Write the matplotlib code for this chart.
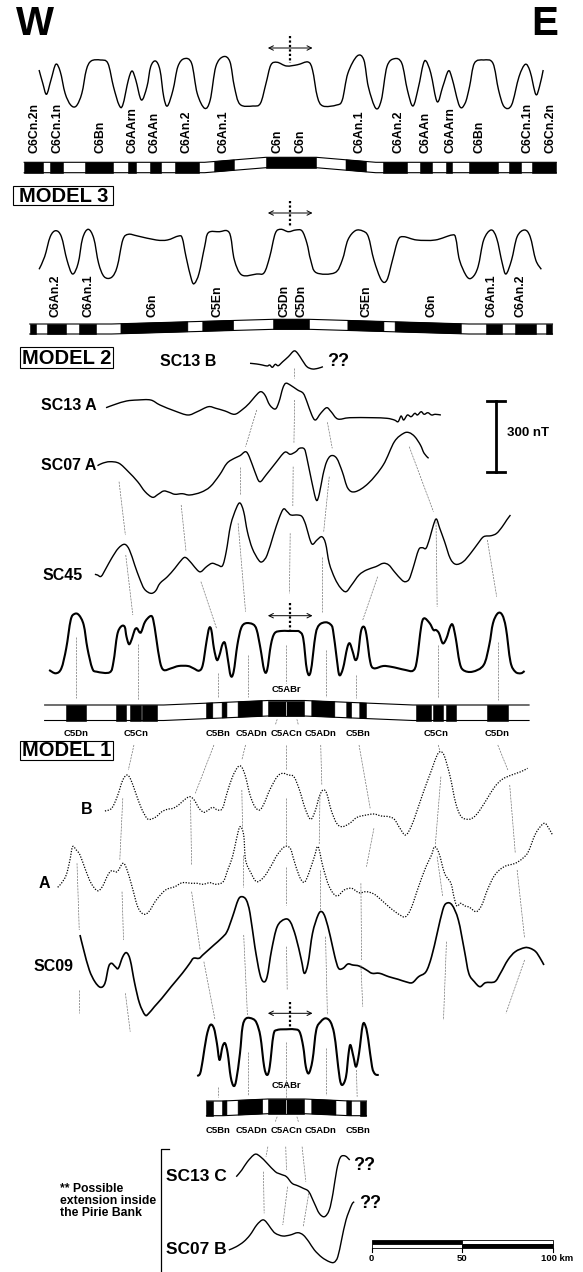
import matplotlib
matplotlib.use("Agg")
import matplotlib.pyplot as plt
import numpy as np
from matplotlib.patches import Polygon, Rectangle, PathPatch
from matplotlib.path import Path

plt.rcParams['font.family'] = ['Liberation Sans', 'DejaVu Sans']
plt.rcParams['font.weight'] = 'bold'

#=========================================================================================
# Data: profiles are (distance along track, anomaly level) pairs.
# Distance is in track units (figure width = 1567), level in figure rows.
#=========================================================================================
model_top = [(105,70),(115,83.3),(125,94.3),(137,80),(150,64.3),(162,71.7),(175,93.3),(190,105),(205,106),
             (220,93.3),(232,70),(245,61),(270,60),(290,63.3),(305,86.7),(320,105),(330,105),(345,80),(355,71),
             (365,80),(380,100),(395,86.7),(405,66.7),(418,61),(430,70),(440,96.7),(450,106),(465,90),(478,66.7),
             (495,58.7),(515,63.3),(530,93.3),(550,108.3),(565,100),(580,66.7),(600,56.7),(618,61.7),(630,86.7),
             (645,104.3),(680,106),(700,103.3),(715,83.3),(728,65),(745,62.3),(770,66),(800,64.7),(828,62),(840,70),
             (853,96.7),(868,106),(905,105),(920,100),(935,73.3),(960,56),(978,60),(990,86.7),(1010,108.3),
             (1025,100),(1040,66.7),(1060,58.7),(1080,63.3),(1095,90),(1110,106),(1125,86.7),(1137,65),(1145,61),
             (1158,73.3),(1175,101.7),(1190,86.7),(1205,71),(1215,78.3),(1235,106),(1250,103.3),(1262,86.7),
             (1275,63.3),(1300,60),(1325,63.3),(1340,90),(1355,106.7),(1375,105),(1395,76.7),(1412,64.3),
             (1425,71.7),(1440,94.3),(1450,86.7),(1460,70)]

model_3 = [(105,269.3),(120,256.7),(135,236.7),(150,230.7),(165,236.7),(180,260),(195,274),(210,263.3),(222,238.3),
           (237,229.3),(252,238.3),(265,263.3),(280,276.7),(300,277.3),(315,266.7),(330,240),(345,234.3),(370,236),
           (420,240),(450,240),(480,236),(490,238.3),(500,256.7),(515,280),(523,283.3),(535,273.3),(550,246.7),
           (560,232.7),(590,231.7),(610,230.7),(620,236.7),(630,260),(650,275),(690,274),(710,272.7),(725,256.7),
           (740,233.3),(755,229.3),(775,231.7),(795,230),(812,231),(825,243.3),(835,260),(850,272.7),(900,272.7),
           (920,260),(935,240),(955,230.7),(975,231),(990,236.7),(1005,260),(1025,280),(1040,280),(1055,260),
           (1070,240),(1085,236.7),(1120,240),(1170,240),(1215,235),(1225,238.3),(1235,260),(1255,276.7),
           (1270,277.3),(1285,266.7),(1300,240),(1320,230),(1335,238.3),(1350,263.3),(1360,274),(1375,260),
           (1390,236.7),(1410,230),(1425,236.7),(1440,260),(1455,269.3)]

sc13_b = [(672,363.3),(690,364),(705,365),(718,366),(725,365),(732,367.3),(740,364.3),(748,365.7),(760,361.7),
          (775,356.7),(790,351),(800,353.3),(812,360),(825,366.7),(840,369),(855,368.3),(868,366.7)]

sc13_a = [(285,407.7),(310,404.3),(340,401),(370,400),(405,400),(430,405),(470,411),(505,415),(530,411.7),
          (560,406.7),(580,408.3),(605,411),(630,414.3),(650,410),(670,403.3),(685,396.7),(700,391.7),(712,395),
          (725,405),(740,409),(750,401.7),(760,388.3),(768,383.3),(780,385),(800,390),(815,393.3),(825,401.7),
          (838,415),(848,420),(862,413.3),(878,407.7),(890,411.7),(908,419),(940,417.7),(1000,417.7),(1040,418.3),
          (1060,420),(1070,421.7),(1078,416),(1085,420),(1095,415),(1105,416.7),(1115,413.3),(1122,415),
          (1132,411.7),(1140,414.3),(1150,412.7),(1160,415),(1170,414.3),(1185,415)]

sc07_a = [(262,465.7),(275,463.3),(295,461.7),(320,463.3),(345,471.7),(370,481.7),(390,491.7),(410,497.3),
          (425,494.3),(440,491),(455,492.3),(470,494.3),(490,493.7),(510,495),(540,492.3),(565,486.7),(590,475),
          (610,463.3),(630,458.3),(645,455.7),(660,451.7),(670,456.7),(685,471.7),(698,481.7),(715,475),
          (740,463.3),(765,452.3),(780,454.3),(795,451.7),(805,448.3),(818,449),(825,458.3),(838,481.7),(850,500),
          (858,494.3),(868,475),(878,461.7),(890,455.7),(905,458.3),(920,471.7),(935,488.3),(955,491.7),
          (990,483.3),(1030,465),(1060,441.7),(1085,433.3),(1100,432.7),(1115,436.7),(1130,445),(1140,453.3),
          (1152,458.3)]

sc45 = [(255,574.3),(262,575),(272,576.3),(285,568.3),(300,558.3),(318,548.3),(335,544.3),(348,550),(362,565),
        (375,578.3),(388,589),(405,593.3),(418,591),(430,583.3),(450,576.7),(470,568.3),(490,559),(500,557.7),
        (515,563.3),(530,570),(540,571.7),(555,566.7),(570,563.3),(585,565),(598,565.7),(608,551.7),(620,525),
        (635,508.3),(645,503),(655,511.7),(665,531.7),(678,548.3),(695,560),(705,561.7),(718,555),(735,535),
        (750,518.3),(762,509),(772,511.7),(782,515),(800,515),(812,516.7),(822,525),(832,538.3),(840,544.3),
        (852,540),(865,536.7),(875,543.3),(885,563.3),(900,578.3),(915,587.7),(930,591.7),(945,585),(965,575),
        (985,570),(1010,566.7),(1030,563.3),(1045,565),(1060,571.7),(1080,580),(1090,581.7),(1100,579),
        (1110,568.3),(1125,550),(1135,547.7),(1145,548.3),(1155,538.3),(1165,525),(1173,519),(1182,528.3),
        (1195,541.7),(1210,558.3),(1225,564.3),(1245,561.7),(1265,553.3),(1285,543.3),(1300,536.7),(1320,535.7),
        (1335,533.3),(1350,526.7),(1362,520),(1372,515)]

model_2 = [(132,670),(150,673.3),(165,668.3),(178,648.3),(190,620),(200,614),(212,615),(225,625),(235,648.3),
           (248,668.3),(260,671.7),(295,672.3),(305,661.7),(315,635),(325,626.7),(335,626.7),(340,636.7),
           (347,644.3),(355,638.3),(362,630),(368,628.3),(375,632.3),(380,631.7),(390,621.7),(405,616),(412,620),
           (420,638.3),(430,661.7),(440,670),(460,668.3),(480,666),(505,666),(520,668.3),(535,670.7),(545,665),
           (555,641.7),(562,628.3),(568,630),(575,648.3),(583,660),(590,655),(598,644.3),(605,643.3),(612,658.3),
           (620,675.7),(628,671.7),(638,645),(648,628.3),(660,623.3),(680,624.3),(690,630),(700,648.3),(710,670),
           (718,670),(728,645),(738,633.3),(755,631),(775,631),(795,631),(805,631.7),(815,638.3),(825,670),
           (835,671.7),(848,635),(858,625),(875,622.3),(888,624.3),(895,630),(905,658.3),(912,675),(922,668.3),
           (933,648.3),(940,643.3),(948,651.7),(955,660),(962,655),(970,631.7),(978,626.7),(985,635),(995,661.7),
           (1005,668.3),(1030,666),(1050,666.7),(1070,668.3),(1090,670),(1110,670.7),(1120,661.7),(1132,626.7),
           (1140,618.3),(1155,623.3),(1165,630),(1172,630),(1180,633.3),(1190,643.3),(1200,638.3),(1210,626.7),
           (1217,625),(1225,638.3),(1235,661.7),(1245,670),(1270,671.7),(1300,665),(1315,645),(1325,623.3),
           (1338,613.3),(1350,615),(1360,628.3),(1372,661.7),(1385,671.7),(1400,673.3),(1410,671)]

profile_b = [(282,811),(300,808.3),(315,796.7),(330,780),(342,775),(352,780),(365,793.3),(380,808.3),(395,818.3),
             (405,819.3),(420,816.7),(435,811.7),(450,809.3),(465,808.3),(480,805),(495,800),(510,796.7),(522,800),
             (535,808.3),(548,812.3),(560,810),(572,807.3),(585,810),(598,808.3),(610,793.3),(625,776.7),
             (640,766.7),(650,767.3),(660,776.7),(672,795),(685,806.7),(698,810),(710,803.3),(725,790),(745,776.7),
             (760,773.3),(775,775),(790,776.7),(805,790),(820,808.3),(835,819.3),(848,810),(858,796.7),(868,790),
             (878,793.3),(890,810),(905,823.3),(920,826.7),(940,823.3),(960,817.3),(985,815),(1005,814),(1025,816),
             (1045,816.7),(1060,819.3),(1075,828.3),(1090,835),(1105,826.7),(1120,811.7),(1140,790),(1160,770),
             (1175,755),(1185,751.7),(1195,756.7),(1210,776.7),(1225,803.3),(1240,816.7),(1260,819.3),(1275,816.7),
             (1290,810),(1310,798.3),(1330,786.7),(1350,779.3),(1375,775),(1400,771.7),(1418,768.3)]

profile_a = [(155,887.3),(165,883.3),(178,875),(188,860),(195,846.7),(205,850),(215,855),(230,870),(245,883.3),
             (262,890.7),(275,886.7),(290,875),(300,870.7),(315,871.7),(330,863.3),(340,868.3),(355,886.7),
             (370,906.7),(385,914),(400,911.7),(420,900),(445,890),(470,886.7),(490,882.7),(515,883.3),(530,883.3),
             (545,884.3),(565,882.7),(580,884.3),(600,881.7),(612,870),(625,856.7),(635,840),(645,826.7),(655,835),
             (660,860),(675,873.3),(690,881.7),(710,876.7),(730,865),(745,855),(765,846.7),(780,848.3),(790,860),
             (805,876.7),(818,882.3),(830,873.3),(845,856.7),(855,846.7),(868,866.7),(885,886.7),(905,896),
             (925,890),(945,888.3),(965,892.7),(985,891.7),(1005,894),(1025,900),(1050,908.3),(1075,915),
             (1090,916.7),(1105,908.3),(1125,886.7),(1145,866.7),(1160,855),(1168,846.7),(1180,853.3),(1195,873.3),
             (1212,883.3),(1220,896.7),(1228,906),(1238,903.3),(1250,906),(1262,907.3),(1280,911.7),(1295,905),
             (1310,890),(1330,875),(1355,866.7),(1385,863.3),(1405,858.3),(1420,851.7),(1440,833.3),(1462,823.3),
             (1475,828.3),(1485,835)]

sc09 = [(215,935),(225,950),(240,970),(255,981.7),(270,987.3),(282,983.3),(292,966.7),(300,963.3),(310,966.7),
        (318,968.3),(330,956.7),(340,952.7),(350,960),(362,983.3),(375,1003.3),(390,1015),(400,1013.3),
        (415,1006.7),(435,998.3),(460,986.7),(490,973.3),(510,963.3),(520,958.3),(535,958.3),(545,955),(560,950),
        (575,945),(595,938.3),(610,931.7),(625,916.7),(640,900),(650,896.7),(662,900),(672,913.3),(685,946.7),
        (698,973.3),(708,981.7),(718,976.7),(730,950),(745,926.7),(765,919.3),(780,921.7),(795,936.7),(810,960),
        (818,973.3),(828,963.3),(840,933.3),(855,915),(865,911.7),(875,918.3),(888,936.7),(900,956.7),
        (910,968.3),(922,968.3),(935,964),(948,965),(965,966),(985,970),(1000,973.3),(1020,973.3),(1045,976.7),
        (1070,979.3),(1090,981.7),(1108,982.7),(1125,976.7),(1145,971.7),(1160,956.7),(1175,933.3),(1190,910),
        (1200,903.3),(1215,905),(1232,920),(1248,950),(1260,973.3),(1275,981.7),(1290,986.7),(1305,982.7),
        (1330,981.7),(1345,973.3),(1365,960),(1385,951.7),(1410,947.7),(1425,948.3),(1440,951.7),(1452,958.3),
        (1462,965)]

model_1 = [(530,1076),(538,1073.3),(545,1060),(555,1036.7),(565,1025),(575,1028.3),(583,1043.3),(590,1060),
           (598,1046.7),(605,1043.3),(612,1053.3),(620,1076.7),(628,1086),(635,1080),(645,1053.3),(652,1026.7),
           (662,1018.3),(680,1019),(690,1023.3),(700,1036.7),(710,1066.7),(718,1075),(725,1066.7),(735,1035),
           (745,1030),(770,1029.3),(790,1029.3),(805,1031.7),(815,1046.7),(822,1066.7),(830,1073.3),(840,1060),
           (850,1030),(862,1021.7),(875,1018.3),(888,1021.7),(898,1033.3),(905,1053.3),(913,1078.3),(920,1085),
           (930,1076.7),(937,1053.3),(942,1045),(950,1056.7),(957,1066.7),(965,1053.3),(975,1025),(983,1026.7),
           (990,1040),(1000,1066.7),(1008,1074),(1018,1075)]

sc13_c = [(635,1176.7),(650,1170),(665,1161.7),(685,1154.3),(700,1156.7),(718,1163.3),(740,1171.7),(755,1174.3),
          (770,1176.7),(785,1183.3),(800,1185.7),(815,1188.3),(830,1191.7),(845,1203.3),(858,1213.3),(872,1216.7),
          (885,1210),(895,1193.3),(905,1170),(915,1157.3),(928,1156),(940,1160)]

sc07_b = [(615,1250),(635,1246.7),(655,1241.7),(672,1235),(690,1225),(705,1220),(715,1221.7),(728,1228.3),
          (740,1233.3),(760,1236),(780,1235),(800,1232.7),(815,1235),(830,1241.7),(845,1250),(865,1257.3),
          (885,1261.7),(898,1262.3),(908,1256.7),(918,1240),(930,1220),(945,1205),(952,1201.7)]

# normal polarity blocks (start, end) for each model bar
blocks_top = [(65,115),(135,168),(228,305),(345,365),(403,433),(470,535),(577,630),(715,850),(930,985),
              (1030,1095),(1130,1160),(1198,1215),(1260,1338),(1368,1400),(1430,1495)]
blocks_m3 = [(80,97),(125,178),(213,258),(325,505),(545,628),(735,830),(935,1032),(1062,1240),(1305,1350),
             (1385,1440),(1468,1485)]
blocks_m2 = [(178,230),(313,340),(350,378),(382,422),(555,572),(597,610),(640,705),(720,818),(838,900),
             (932,945),(967,985),(1118,1158),(1163,1190),(1200,1225),(1310,1365)]
blocks_m1 = [(555,572),(598,610),(640,706),(720,818),(838,903),(932,945),(967,985)]

# chron labels
labels_top = ["C6Cn.2n","C6Cn.1n","C6Bn","C6AArn","C6AAn","C6An.2","C6An.1","C6n",
              "C6n","C6An.1","C6An.2","C6AAn","C6AArn","C6Bn","C6Cn.1n","C6Cn.2n"]
labels_top_x = [93,155,270,355,415,500,600,745,808,965,1070,1145,1210,1290,1418,1480]
labels_m3 = ["C6An.2","C6An.1","C6n","C5En","C5Dn","C5Dn","C5En","C6n","C6An.1","C6An.2"]
labels_m3_x = [150,238,410,585,765,810,985,1160,1320,1400]
labels_m2 = ["C5Dn","C5Cn","C5Bn","C5ADn","C5ACn","C5ADn","C5Bn","C5Cn","C5Dn"]
labels_m2_x = [205,365,585,677,770,862,963,1172,1337]
labels_m1 = ["C5Bn","C5ADn","C5ACn","C5ADn","C5Bn"]
labels_m1_x = [585,677,770,862,963]

# correlation lines between profiles
corr_lines = [((690,410),(660,446.7)),((645,466.7),(645,495)),((790,368.3),(790,378.3)),((792,400),(790,443.3)),
              ((788,466.7),(787,506)),((780,533.3),(778,593.3)),((880,422.3),(893,448.3)),((885,476.7),(870,531.7)),
              ((320,481.7),(337,535)),((487,505),(500,551.7)),((1100,446.7),(1165,511.7)),
              ((640,523.3),(660,611.7)),((338,555),(357,615)),((540,581.7),(582,628.3)),((866,556.7),(866,611.7)),
              ((1015,576.7),(975,620)),((1172,521.7),(1175,606.7)),((1310,540),(1335,596.7)),
              ((203,636.7),(203,698.3)),((372,644.3),(372,700)),((585,673.3),(585,698.3)),((667,655),(667,696.7)),
              ((770,645),(770,683.3)),((875,650),(875,696.7)),((958,675),(958,698.3)),((1178,645),(1178,698.3)),
              ((1338,641.7),(1338,700)),((745,719.3),(740,725)),((798,719.3),(802,725)),
              ((360,745),(345,770)),((575,745),(525,793.3)),((660,745),(650,760)),((770,745),(770,770)),
              ((862,745),(865,785)),((965,745),(995,808.3)),((1178,745),(1183,752)),((1338,745),(1365,770)),
              ((330,798.3),(322,860)),((512,800),(515,865)),((650,790),(652,828.3)),((770,798.3),(770,845)),
              ((860,795),(858,845)),((1005,828.3),(985,866.7)),((1185,776.7),(1170,845)),((1370,785),(1385,853.3)),
              ((207,863.3),(213,930)),((328,891.7),(332,940)),((515,891.7),(538,950)),((652,855),(652,886.7)),
              ((770,866.7),(770,905)),((860,870),(860,910)),((970,883.3),(972,960)),((1175,856.7),(1190,896.7)),
              ((1390,870),(1410,938.3)),((213,990),(213,1013.3)),((337,993.3),(350,1031.7)),((548,961.7),(578,1020)),
              ((655,935),(665,1015)),((770,946.7),(772,990)),((875,936.7),(880,1015)),((970,965),(975,1006.7)),
              ((1200,941.7),(1192,1020)),((1410,960),(1360,1013.3)),((585,1086.7),(585,1096.7)),
              ((667,1051.7),(667,1095)),((770,1041.7),(770,1098.3)),((876,1048.3),(876,1095)),
              ((958,1070),(960,1096.7)),((745,1116.7),(740,1121.7)),((798,1116.7),(802,1121.7)),
              ((720,1146.7),(715,1156.7)),((768,1146.7),(770,1170)),((812,1146.7),(822,1181.7)),
              ((708,1171.7),(710,1213.3)),((773,1186.7),(760,1225)),((830,1193.3),(815,1226.7))]

SCALE_KM = [0, 50, 100]
KM = (1486 - 999) / 100.0   # track units per km

#=========================================================================================
# Figure setup
#=========================================================================================
fig = plt.figure(figsize=(5.83, 12.72), dpi=100)
ax = fig.add_axes([0, 0, 1, 1])
ax.set_xlim(0, 1567)
ax.set_ylim(1272, 0)
ax.axis('off')


def draw_profile(pts, lw=1.0, ls='-'):
    # smooth curve through the read points (cubic bezier segments, catmull-rom handles)
    p = np.array(pts, float)
    n = len(p)
    verts = [p[0]]
    codes = [Path.MOVETO]
    for i in range(n - 1):
        p0 = p[i - 1] if i > 0 else p[i]
        p3 = p[i + 2] if i + 2 < n else p[i + 1]
        verts += [p[i] + (p[i + 1] - p0) / 6, p[i + 1] - (p3 - p[i]) / 6, p[i + 1]]
        codes += [Path.CURVE4] * 3
    ax.add_patch(PathPatch(Path(verts, codes), fill=False, ec='k', lw=lw, ls=ls, joinstyle='round'))


def draw_bar(blocks, x0, x1, top, bot, bend_x, bend_dy, split=None):
    # outline of the (slightly bent) polarity bar
    xs = np.array([x0] + [b for b in bend_x if x0 < b < x1] + [x1], float)
    dy = np.interp(xs, bend_x, bend_dy)
    ax.plot(xs, top + dy, color='k', lw=0.8)
    ax.plot(xs, bot + dy, color='k', lw=0.8)
    for a, b in blocks:
        xx = np.array([a] + [v for v in bend_x if a < v < b] + [b], float)
        d = np.interp(xx, bend_x, bend_dy)
        poly = np.column_stack([np.r_[xx, xx[::-1]], np.r_[top + d, (bot + d)[::-1]]])
        ax.add_patch(Polygon(poly, closed=True, fc='k', ec='k', lw=0.4))
    if split is not None:
        d = np.interp(split, bend_x, bend_dy)
        ax.plot([split, split], [top + d + 1, bot + d - 1], color='w', lw=0.5)


def spreading_arrow(y, ytop, ybot):
    ax.annotate('', xy=(840, y), xytext=(720, y),
                arrowprops=dict(arrowstyle='<->', lw=0.7, color='k', shrinkA=0, shrinkB=0,
                                mutation_scale=8))
    ax.plot([780, 780], [ytop, ybot], color='k', lw=1.6, ls=(0, (1, 1)))


def model_box(text, x0, x1, y0, y1):
    ax.add_patch(Rectangle((x0, y0), x1 - x0, y1 - y0, fc='none', ec='k', lw=0.8))
    ax.text((x0 + x1) / 2, (y0 + y1) / 2 + 0.5, text, fontsize=14.5, ha='center', va='center')


#=========================================================================================
# Correlation lines (drawn first, underneath)
#=========================================================================================
for (xa, ya), (xb, yb) in corr_lines:
    ax.plot([xa, xb], [ya, yb], color='0.45', lw=0.5, ls=(0, (3, 1.5)))

#=========================================================================================
# Top model
#=========================================================================================
ax.text(43, 24, "W", fontsize=29, ha='left', va='center')
ax.text(1500, 24, "E", fontsize=29, ha='right', va='center')

draw_profile(model_top)
spreading_arrow(48, 36, 63)
for lab, x in zip(labels_top, labels_top_x):
    ax.text(x, 153.3, lab, rotation=90, ha='center', va='bottom', fontsize=8.8)
draw_bar(blocks_top, 65, 1495, 162.3, 172.7, [0, 550, 715, 850, 1010, 1567], [0, 0, -5, -5, 0, 0])

#=========================================================================================
# Model 3
#=========================================================================================
model_box("MODEL 3", 35, 305, 186, 205)
draw_profile(model_3)
spreading_arrow(213, 200.7, 226)
for lab, x in zip(labels_m3, labels_m3_x):
    ax.text(x, 316.7, lab, rotation=90, ha='center', va='bottom', fontsize=8.8)
draw_bar(blocks_m3, 80, 1485, 324, 334, [0, 300, 735, 830, 1260, 1567], [0, 0, -4.7, -4.7, 0, 0])

#=========================================================================================
# Model 2 with observed profiles
#=========================================================================================
model_box("MODEL 2", 55, 305, 346.7, 368.3)

ax.text(430, 361, "SC13 B", fontsize=11.5, ha='left', va='center')
draw_profile(sc13_b)
ax.text(880, 362, "??", fontsize=13, ha='left', va='center')

ax.text(110, 406, "SC13 A", fontsize=11.5, ha='left', va='center')
draw_profile(sc13_a)

ax.text(110, 465.7, "SC07 A", fontsize=11.5, ha='left', va='center')
draw_profile(sc07_a)

ax.text(115, 575.7, "SC45", fontsize=11.5, ha='left', va='center')
draw_profile(sc45)

# 300 nT scale
ax.plot([1333, 1333], [401, 471.7], color='k', lw=2)
ax.plot([1310, 1358], [401, 401], color='k', lw=2)
ax.plot([1310, 1358], [471.7, 471.7], color='k', lw=2)
ax.text(1362, 433.3, "300 nT", fontsize=9.5, ha='left', va='center')

draw_profile(model_2, lw=1.5)
spreading_arrow(615.7, 603, 630)
ax.text(770, 689.3, "C5ABr", fontsize=6.8, ha='center', va='center')
draw_bar(blocks_m2, 120, 1422, 705, 720.5, [0, 440, 720, 818, 1110, 1567], [0, 0, -4.5, -4.5, 0, 0], split=770)
for lab, x in zip(labels_m2, labels_m2_x):
    ax.text(x, 734, lab, ha='center', va='center', fontsize=6.8)

#=========================================================================================
# Model 1 with observed profiles
#=========================================================================================
model_box("MODEL 1", 55, 305, 741, 760)

ax.text(232, 810, "B", fontsize=11.5, ha='center', va='center')
draw_profile(profile_b, lw=0.9, ls=(0, (1, 1.2)))
ax.text(118, 883.3, "A", fontsize=11.5, ha='center', va='center')
draw_profile(profile_a, lw=0.9, ls=(0, (1, 1.2)))
ax.text(90, 966.7, "SC09", fontsize=11.5, ha='left', va='center')
draw_profile(sc09, lw=1.2)

draw_profile(model_1, lw=1.5)
spreading_arrow(1013.3, 1001.7, 1026.7)
ax.text(770, 1086, "C5ABr", fontsize=6.8, ha='center', va='center')
draw_bar(blocks_m1, 555, 985, 1101, 1115.7, [0, 600, 720, 818, 940, 1567], [0, 0, -2, -2, 0, 0], split=770)
for lab, x in zip(labels_m1, labels_m1_x):
    ax.text(x, 1130.7, lab, ha='center', va='center', fontsize=6.8)

#=========================================================================================
# Possible extension inside the Pirie Bank
#=========================================================================================
ax.plot([455, 432, 432], [1149.3, 1149.3, 1272], color='k', lw=0.9)
ax.text(162, 1201, "** Possible\nextension inside\nthe Pirie Bank", fontsize=8.8, ha='left', va='center',
        linespacing=1.05)
ax.text(445, 1176.7, "SC13 C", fontsize=12.5, ha='left', va='center')
draw_profile(sc13_c)
ax.text(950, 1165, "??", fontsize=13, ha='left', va='center')
ax.text(445, 1249, "SC07 B", fontsize=12.5, ha='left', va='center')
draw_profile(sc07_b)
ax.text(965, 1203.3, "??", fontsize=13, ha='left', va='center')

# km scale bar
x0 = 999
half = KM * 50
ax.add_patch(Rectangle((x0, 1239.5), half, 4.4, fc='k', ec='k', lw=0.6))
ax.add_patch(Rectangle((x0 + half, 1239.5), half, 4.4, fc='w', ec='k', lw=0.6))
ax.add_patch(Rectangle((x0, 1243.9), half, 4.4, fc='w', ec='k', lw=0.6))
ax.add_patch(Rectangle((x0 + half, 1243.9), half, 4.4, fc='k', ec='k', lw=0.6))
for km in SCALE_KM:
    ax.plot([x0 + km * KM, x0 + km * KM], [1248.3, 1252], color='k', lw=0.8)
ax.text(x0, 1258.5, "0", fontsize=6.8, ha='center', va='center')
ax.text(x0 + 50 * KM, 1258.5, "50", fontsize=6.8, ha='center', va='center')
ax.text(x0 + 100 * KM - 32, 1258.5, "100 km", fontsize=6.8, ha='left', va='center')

fig.savefig("out.png", dpi=100)
